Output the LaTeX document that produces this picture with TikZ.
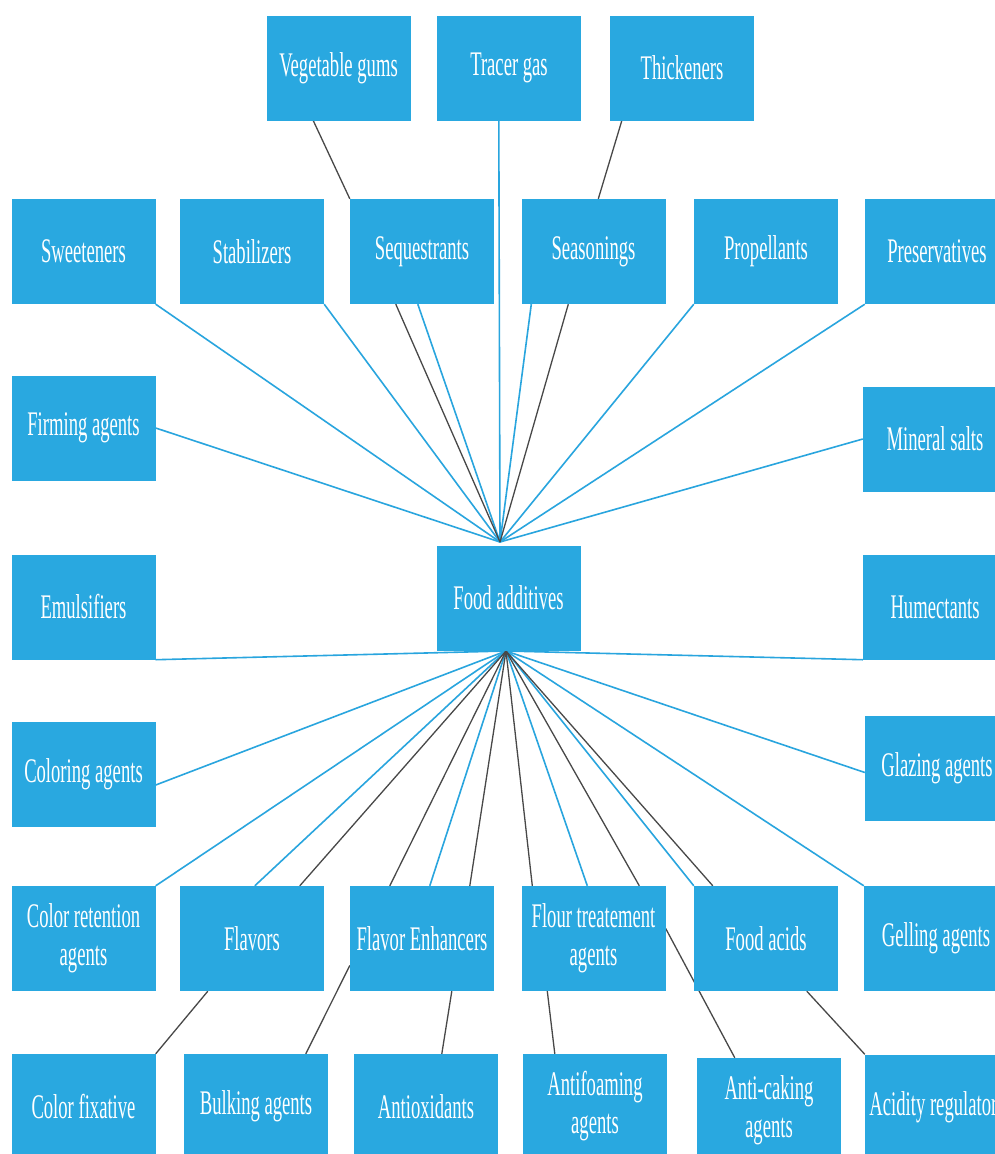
\documentclass[tikz,border=0pt]{standalone}
\usepackage{fontspec}
\setmainfont{Liberation Serif}[FakeStretch=0.54]
\usetikzlibrary{calc,backgrounds}
\definecolor{boxblue}{RGB}{41,168,224}
\definecolor{lineblue}{RGB}{41,165,222}
\definecolor{darkline}{RGB}{72,72,72}
\tikzset{
  box/.style={fill=boxblue, draw=none, text=white, minimum width=144pt, minimum height=105pt,
    inner sep=0pt, align=center, font=\fontsize{34.5}{38}\selectfont},
  blueline/.style={draw=lineblue, line width=1.6pt},
  darkline/.style={draw=darkline, line width=1.3pt}
}
\begin{document}
\begin{tikzpicture}[x=1pt,y=-1pt]
\useasboundingbox (0,0) rectangle (995,1154);
\clip (0,0) rectangle (995,1154);
% top row
\node[box] (vg) at (338.5,68) {Vegetable gums};
\node[box] (tg) at (509,68) {Tracer gas};
\node[box] (th) at (682,68) {Thickeners};
% second row
\node[box] (sw) at (83.5,251.5) {Sweeteners};
\node[box] (st) at (252,251.5) {Stabilizers};
\node[box] (seq) at (422,251.5) {Sequestrants};
\node[box] (ss) at (593.5,251.5) {Seasonings};
\node[box] (pr) at (766,251.5) {Propellants};
\node[box] (pv) at (937,251.5) {Preservatives};
% sides
\node[box] (fi) at (83.5,428) {Firming agents};
\node[box] (ms) at (935,439) {Mineral salts};
\node[box] (fa) at (508.5,598) {Food additives};
\node[box] (em) at (83.5,607) {Emulsifiers};
\node[box] (hu) at (935,607) {Humectants};
\node[box] (co) at (83.5,774) {Coloring agents};
\node[box] (gl) at (937,768.5) {Glazing agents};
% lower row
\node[box] (cr) at (83.5,938.5) {Color retention\\agents};
\node[box] (fl) at (252,938.5) {Flavors};
\node[box] (fe) at (422,938.5) {Flavor Enhancers};
\node[box] (ft) at (593.5,938.5) {Flour treatement\\agents};
\node[box] (fa2) at (766,938.5) {Food acids};
\node[box] (ge) at (936,938.5) {Gelling agents};
% bottom row
\node[box] (cf) at (83.5,1106.5) {Color fixative};
\node[box] (bu) at (256,1106.5) {Bulking agents};
\node[box] (ao) at (426,1106.5) {Antioxidants};
\node[box] (af) at (595,1106.5) {Antifoaming\\agents};
\node[box] (ac) at (769,1110.5) {Anti-caking\\agents};
\node[box] (ar) at (937,1107) {Acidity regulators};
\coordinate (hubT) at (500,542);
\coordinate (hubB) at (506,651);
\begin{pgfonlayer}{background}
\fill[white] (0,0) rectangle (995,1154);
\begin{scope}[blueline]
\draw (hubT) -- (sw.south east);
\draw (hubT) -- (st.south east);
\draw (hubT) -- ($(seq.south west)+(68,0)$);
\draw (hubT) -- ($(tg.south west)+(62,0)$);
\draw (hubT) -- ($(ss.south west)+(10,0)$);
\draw (hubT) -- (pr.south west);
\draw (hubT) -- (pv.south west);
\draw (hubT) -- (fi.east);
\draw (hubT) -- (ms.west);
\draw (hubB) -- (em.south east);
\draw (hubB) -- (hu.south west);
\draw (hubB) -- ($(co.east)+(0,11)$);
\draw (hubB) -- ($(gl.west)+(0,4)$);
\draw (hubB) -- (cr.north east);
\draw (hubB) -- ($(fl.north west)+(75,0)$);
\draw (hubB) -- ($(fe.north west)+(80,0)$);
\draw (hubB) -- ($(ft.north west)+(66,0)$);
\draw (hubB) -- (fa2.north west);
\draw (hubB) -- (ge.north west);
\end{scope}
\begin{scope}[darkline]
\draw (hubT) -- ($(seq.south west)+(46,0)$);
\draw (hubT) -- ($(ss.south west)+(47,0)$);
\draw ($(vg.south west)+(47,0)$) -- (seq.north west);
\draw ($(th.south west)+(12,0)$) -- ($(ss.north west)+(77,0)$);
\draw (hubB) -- ($(fl.north west)+(120,0)$);
\draw (hubB) -- ($(fe.north west)+(40,0)$);
\draw (hubB) -- ($(fe.north west)+(120,0)$);
\draw (hubB) -- ($(ft.north west)+(11,0)$);
\draw (hubB) -- ($(ft.north west)+(118,0)$);
\draw (hubB) -- ($(fa2.north west)+(19,0)$);
\draw ($(fl.south west)+(28,0)$) -- (cf.north east);
\draw ($(fe.west)+(0,27)$) -- ($(bu.north west)+(122,0)$);
\draw ($(fe.south west)+(102,0)$) -- ($(ao.north west)+(88,0)$);
\draw ($(ft.south west)+(26,0)$) -- ($(af.north west)+(32,0)$);
\draw ($(ft.east)+(0,-10)$) -- ($(ac.north west)+(38,0)$);
\draw ($(fa2.south west)+(113,0)$) -- (ar.north west);
\end{scope}
\end{pgfonlayer}
\end{tikzpicture}
\end{document}
